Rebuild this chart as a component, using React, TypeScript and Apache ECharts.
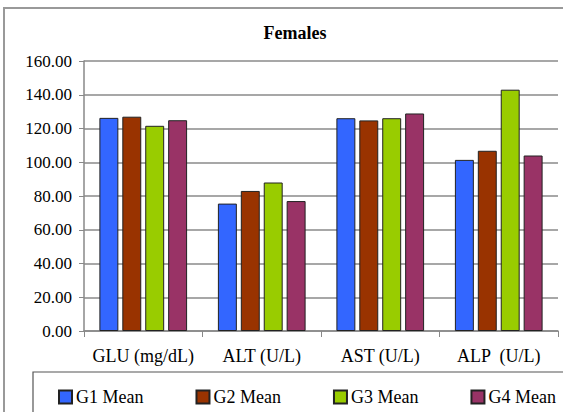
import React, { useEffect, useRef } from "react";
import * as echarts from "echarts";

const categories = ["GLU (mg/dL)", "ALT (U/L)", "AST (U/L)", "ALP  (U/L)"];
const seriesNames = ["G1 Mean", "G2 Mean", "G3 Mean", "G4 Mean"];
const g1 = [126.3, 75.5, 126.1, 101.4];
const g2 = [127.0, 83.0, 124.8, 106.8];
const g3 = [121.6, 88.0, 126.1, 143.0];
const g4 = [124.9, 77.0, 128.9, 104.0];
const colors = ["#3366FF", "#993300", "#99CC00", "#993366"];

export default function App() {
  const ref = useRef<HTMLDivElement>(null);
  useEffect(() => {
    if (!ref.current) return;
    const chart = echarts.init(ref.current, null, { renderer: "svg" });
    const serif = "Liberation Serif";
    const data = [g1, g2, g3, g4];
    chart.setOption({
      animation: false,
      backgroundColor: "#fff",
      title: {
        text: "Females",
        left: 295,
        textAlign: "center",
        top: 24,
        padding: 0,
        textStyle: { fontFamily: serif, fontWeight: "bold", fontSize: 18, color: "#000" },
      },
      grid: { left: 84, right: 5, top: 61, bottom: 81, containLabel: false },
      xAxis: {
        type: "category",
        data: categories,
        axisLine: { lineStyle: { color: "#888", width: 1.5 } },
        axisTick: { show: true, length: 6, lineStyle: { color: "#888" } },
        axisLabel: { interval: 0, fontFamily: serif, fontSize: 18, color: "#000", margin: 16 },
      },
      yAxis: {
        type: "value",
        min: 0,
        max: 160,
        interval: 20,
        axisLine: { show: true, lineStyle: { color: "#888", width: 1.5 } },
        axisTick: { show: true, length: 5, lineStyle: { color: "#888" } },
        axisLabel: {
          fontFamily: serif,
          fontSize: 17,
          color: "#000",
          margin: 12,
          formatter: (v: number) => v.toFixed(2),
        },
        splitLine: { lineStyle: { color: "#8a8a8a", width: 1.5 } },
      },
      legend: {
        left: 58,
        top: 388,
        icon: "rect",
        itemWidth: 13,
        itemHeight: 13,
        itemGap: 52,
        padding: 0,
        textStyle: { fontFamily: serif, fontSize: 18, lineHeight: 15, color: "#000", padding: [0, 0, 0, -1] },
        data: seriesNames,
      },
      graphic: [
        {
          type: "rect",
          shape: { x: 4, y: 8, width: 580, height: 420 },
          style: { fill: "none", stroke: "#999", lineWidth: 2 },
          silent: true,
          z: -1,
        },
        {
          type: "rect",
          shape: { x: 33, y: 372, width: 560, height: 60 },
          style: { fill: "none", stroke: "#555", lineWidth: 1.2 },
          silent: true,
        },
      ],
      series: data.map((d, i) => ({
        name: seriesNames[i],
        type: "bar",
        data: d,
        barGap: "21%",
        barCategoryGap: "26%",
        itemStyle: { color: colors[i], borderColor: "#222", borderWidth: 1 },
      })),
    });
    return () => chart.dispose();
  }, []);
  return (
    <div
      ref={ref}
      style={{ position: "fixed", left: 0, top: 0, width: 563, height: 412 }}
    />
  );
}
